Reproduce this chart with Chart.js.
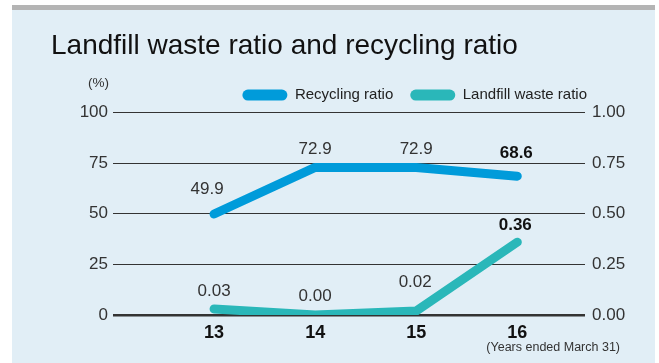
<!DOCTYPE html>
<html>
<head>
<meta charset="utf-8">
<script src="https://cdn.jsdelivr.net/npm/chart.js@4/dist/chart.umd.min.js"></script>
<style>
  html, body { margin: 0; padding: 0; background: #fff; }
  #wrap { position: relative; width: 659px; height: 363px; overflow: hidden; }
  #panel { position: absolute; left: 12px; top: 5px; width: 643px; height: 358px;
           border-top: 5px solid #b4b4b4; box-sizing: border-box; background: #e1eef6; }
  #c { position: absolute; left: 0; top: 0; }
</style>
</head>
<body>
<div id="wrap">
  <div id="panel"></div>
  <canvas id="c" width="659" height="363"></canvas>
</div>
<script>
// data
const years = [13, 14, 15, 16];
const recyclingRatio = [49.9, 72.9, 72.9, 68.6];
const landfillRatio = [0.03, 0.00, 0.02, 0.36];
const leftTicks = [0, 25, 50, 75, 100];
const rightTicks = [0, 0.25, 0.5, 0.75, 1];

const FONT = "'Liberation Sans', Arial, Helvetica, sans-serif";
const BLUE = '#009bda';
const TEAL = '#2ab7b9';

// value labels above each point, plus unit / footnote text
const valueLabels = {
    id: 'valueLabels',
    afterLayout(chart) {
        // legend ends at the right of the plot, not at the canvas edge
        chart.legend.left -= 41;
        chart.legend.right -= 41;
    },
    afterDatasetsDraw(chart) {
        const ctx = chart.ctx;
        const offsets = [
            [[-7, -25], [0, -18], [0, -18], [-1, -23]],
            [[0, -18], [0, -19], [-1, -29], [-2, -17]]
        ];
        ctx.save();
        ctx.textAlign = 'center';
        ctx.textBaseline = 'middle';
        chart.data.datasets.forEach((ds, i) => {
            const meta = chart.getDatasetMeta(i);
            meta.data.forEach((pt, j) => {
                const v = ds.data[j].y;
                const last = j === ds.data.length - 1;
                ctx.font = (last ? 'bold ' : '') + '17px ' + FONT;
                ctx.fillStyle = last ? '#111' : '#333';
                const txt = i === 0 ? v.toFixed(1) : v.toFixed(2);
                ctx.fillText(txt, pt.x + offsets[i][j][0], pt.y + offsets[i][j][1]);
            });
        });

        const yl = chart.scales.y;
        ctx.font = '13.5px ' + FONT;
        ctx.fillStyle = '#333';
        ctx.textAlign = 'right';
        ctx.fillText('(%)', yl.right - 4, 83);
        ctx.font = '12.5px ' + FONT;
        ctx.fillText('(Years ended March 31)', 620, 348);
        ctx.restore();
    }
};

new Chart(document.getElementById('c'), {
    type: 'line',
    data: {
        datasets: [{
            label: 'Recycling ratio',
            data: years.map((y, i) => ({ x: y, y: recyclingRatio[i] })),
            borderColor: BLUE,
            backgroundColor: BLUE,
            borderWidth: 9,
            borderCapStyle: 'round',
            borderJoinStyle: 'round',
            pointRadius: 0,
            tension: 0,
            yAxisID: 'y'
        }, {
            label: 'Landfill waste ratio',
            data: years.map((y, i) => ({ x: y, y: landfillRatio[i] })),
            borderColor: TEAL,
            backgroundColor: TEAL,
            borderWidth: 9,
            borderCapStyle: 'round',
            borderJoinStyle: 'round',
            pointRadius: 0,
            tension: 0,
            yAxisID: 'y1'
        }]
    },
    options: {
        responsive: false,
        devicePixelRatio: 1,
        animation: false,
        layout: { padding: { left: 51, right: 14, top: 0, bottom: 0 } },
        plugins: {
            title: {
                display: true,
                text: 'Landfill waste ratio and recycling ratio',
                align: 'start',
                color: '#111',
                font: { family: FONT, size: 28, weight: 'normal' },
                padding: { top: 29, bottom: 8 }
            },
            legend: {
                display: true,
                position: 'top',
                align: 'end',
                labels: {
                    boxWidth: 45,
                    boxHeight: 11,
                    useBorderRadius: true,
                    borderRadius: 5.5,
                    padding: 17,
                    color: '#222',
                    font: { family: FONT, size: 15 },
                    generateLabels(chart) {
                        return Chart.defaults.plugins.legend.labels.generateLabels(chart)
                            .map(l => Object.assign(l, { lineWidth: 0, strokeStyle: 'rgba(0,0,0,0)' }));
                    }
                }
            },
            tooltip: { enabled: false }
        },
        scales: {
            x: {
                type: 'linear',
                min: 12,
                max: 16.67,
                afterBuildTicks(axis) { axis.ticks = years.map(v => ({ value: v })); },
                afterFit(axis) { axis.height = 48; },
                grid: { display: false },
                border: { display: false },
                ticks: {
                    color: '#111',
                    padding: -1,
                    font: { family: FONT, size: 18, weight: 'bold' },
                    callback: v => String(v)
                }
            },
            y: {
                position: 'left',
                min: 0,
                max: 100,
                afterBuildTicks(axis) { axis.ticks = leftTicks.map(v => ({ value: v })); },
                afterFit(axis) { axis.width = 62; },
                border: { display: false },
                grid: {
                    drawTicks: false,
                    color: '#333',
                    lineWidth: c => c.tick && c.tick.value === 0 ? 2.5 : 1
                },
                ticks: {
                    color: '#333',
                    padding: 5,
                    font: { family: FONT, size: 17 }
                }
            },
            y1: {
                position: 'right',
                min: 0,
                max: 1,
                afterBuildTicks(axis) { axis.ticks = rightTicks.map(v => ({ value: v })); },
                afterFit(axis) { axis.width = 60; },
                border: { display: false },
                grid: { display: false, drawTicks: false },
                ticks: {
                    color: '#333',
                    padding: 7,
                    font: { family: FONT, size: 17 },
                    callback: v => v.toFixed(2)
                }
            }
        }
    },
    plugins: [valueLabels]
});
</script>
</body>
</html>
